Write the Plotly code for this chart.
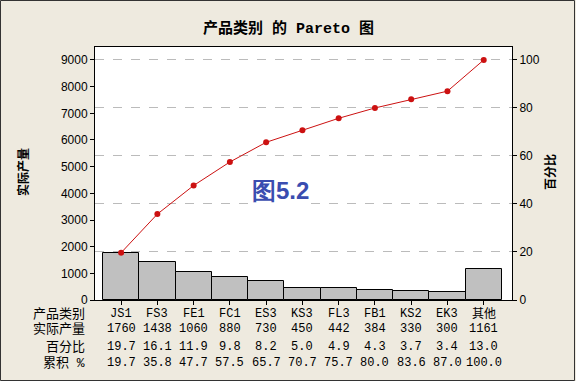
import plotly.graph_objects as go

categories = ["JS1", "FS3", "FE1", "FC1", "ES3", "KS3", "FL3", "FB1", "KS2", "EK3", "其他"]
counts = [1760, 1438, 1060, 880, 730, 450, 442, 384, 330, 300, 1161]
percent = [19.7, 16.1, 11.9, 9.8, 8.2, 5.0, 4.9, 4.3, 3.7, 3.4, 13.0]
cum_percent = [19.7, 35.8, 47.7, 57.5, 65.7, 70.7, 75.7, 80.0, 83.6, 87.0, 100.0]
row_labels = ["产品类别", "实际产量", "百分比", "累积 %"]

left_ticks = [0, 1000, 2000, 3000, 4000, 5000, 6000, 7000, 8000, 9000]
right_ticks = [0, 20, 40, 60, 80, 100]

W, H = 576, 385
L, R, T, B = 95, 512, 47, 300


def px(x):
    return (x - L) / (R - L)


def py(y):
    return (B - y) / (B - T)


idx = list(range(len(categories)))

fig = go.Figure()
fig.add_trace(go.Bar(
    x=idx, y=counts, width=1.0,
    marker=dict(color="#C0C0C0", line=dict(color="black", width=1)),
    yaxis="y", showlegend=False,
))
fig.add_trace(go.Scatter(
    x=idx, y=cum_percent, mode="lines+markers",
    line=dict(color="#CC1111", width=1),
    marker=dict(color="#CC1111", size=6),
    yaxis="y2", showlegend=False,
))

mono = "Liberation Mono, Noto Sans CJK SC, monospace"
cjk = "Noto Sans CJK SC, sans-serif"
sans = "Liberation Sans, Arial, sans-serif"

ann = []
row_y = [314, 329, 347, 363]
rows = [categories,
        [str(v) for v in counts],
        [f"{v:.1f}" for v in percent],
        [f"{v:.1f}" for v in cum_percent]]
for r, (lab, yv) in enumerate(zip(row_labels, row_y)):
    ann.append(dict(x=px(87), y=py(yv), xref="paper", yref="paper", text=lab,
                    showarrow=False, xanchor="right", yanchor="middle",
                    font=dict(family=mono, size=13, color="black")))
    for i, val in enumerate(rows[r]):
        ann.append(dict(x=i, y=py(yv), xref="x", yref="paper", text=val,
                        showarrow=False, xanchor="center", yanchor="middle",
                        font=dict(family=mono, size=12, color="black")))

ann.append(dict(x=px(22), y=py(172), xref="paper", yref="paper", text="<b>实际产量</b>",
                textangle=-90, showarrow=False, xanchor="center", yanchor="middle",
                font=dict(family=cjk, size=12, color="black")))
ann.append(dict(x=px(549), y=py(172), xref="paper", yref="paper", text="<b>百分比</b>",
                textangle=-90, showarrow=False, xanchor="center", yanchor="middle",
                font=dict(family=cjk, size=12, color="black")))
ann.append(dict(x=px(288), y=py(29), xref="paper", yref="paper",
                text="<b>产品类别 的 Pareto 图</b>", showarrow=False,
                xanchor="center", yanchor="middle",
                font=dict(family=mono, size=15, color="black")))
ann.append(dict(x=px(280), y=py(190), xref="paper", yref="paper",
                text="<b>图5.2</b>", showarrow=False, bgcolor="white",
                xanchor="center", yanchor="middle",
                font=dict(family=sans, size=24, color="#3A4DB0")))

shapes = [
    dict(type="rect", xref="paper", yref="paper", x0=px(0), x1=px(576), y0=py(385), y1=py(381),
         fillcolor="white", line=dict(width=0), layer="above"),
    dict(type="rect", xref="paper", yref="paper", x0=px(0.5), x1=px(574.5), y0=py(380.5), y1=py(0.5),
         line=dict(color="#333333", width=1), layer="above"),
]

fig.update_layout(
    width=W, height=H,
    margin=dict(l=L, r=W - R, t=T, b=H - B, pad=0),
    paper_bgcolor="#EEEADF",
    plot_bgcolor="white",
    bargap=0,
    xaxis=dict(range=[-0.72, 10.78], tickvals=idx, ticktext=[""] * len(idx),
               ticks="outside", ticklen=4, tickcolor="black",
               showline=True, linecolor="black", linewidth=1, mirror=True,
               showgrid=False, zeroline=False, fixedrange=True),
    yaxis=dict(range=[0, 9487], tickvals=left_ticks, ticks="outside", ticklen=4,
               tickcolor="black", showline=True, linecolor="black", linewidth=1,
               showgrid=False, zeroline=False,
               tickfont=dict(family=sans, size=12, color="black")),
    yaxis2=dict(range=[0, 105.4], tickvals=right_ticks, ticks="outside", ticklen=4,
                tickcolor="black", overlaying="y", side="right",
                showline=True, linecolor="black", linewidth=1,
                showgrid=True, gridcolor="#BBBBBB", griddash="dash", gridwidth=1,
                zeroline=False,
                tickfont=dict(family=sans, size=12, color="black")),
    annotations=ann,
    shapes=shapes,
)

fig.write_html("out.html", config={"displayModeBar": False},
               post_script="document.body.style.margin='0';document.body.style.padding='0';")
